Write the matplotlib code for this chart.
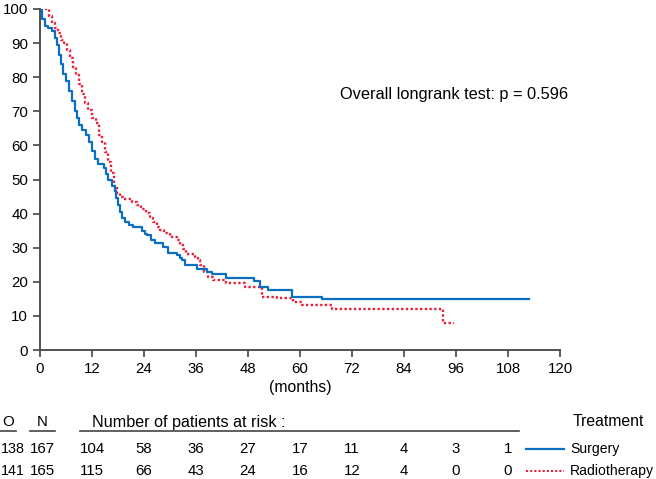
import matplotlib.pyplot as plt
import numpy as np

plt.rcParams['font.family'] = ['Liberation Sans', 'DejaVu Sans']

# Kaplan-Meier curves: (month, survival %)
surgery_km = [(0, 100), (0.5, 97), (1.2, 95), (1.8, 94.5), (2.8, 93.5), (3.5, 91.5), (4.0, 89.5),
              (4.4, 86.5), (4.8, 84), (5.3, 81), (6.0, 79), (6.7, 76), (7.4, 73), (8.1, 70),
              (8.5, 68), (9.0, 66), (9.7, 64.5), (10.6, 63), (11.3, 61), (12.0, 58.5), (12.7, 56),
              (13.4, 54.5), (14.8, 53.5), (15.2, 51.5), (15.7, 50), (16.6, 48.2), (17.2, 46.5),
              (17.6, 44.5), (18.0, 42.4), (18.5, 40.5), (19.0, 38.8), (19.6, 37.4), (20.5, 36.8),
              (21.5, 36), (23.5, 35), (24.2, 34), (24.7, 33.6), (25.5, 32.4), (26.5, 31.3),
              (28.4, 30.2), (29.6, 28.4), (31.6, 27.8), (32.2, 27), (32.7, 26.3), (33.5, 24.9),
              (36.2, 23.7), (38.5, 22.8), (39.7, 22.3), (43.0, 21), (49.3, 20.2), (50.8, 18.4),
              (52.6, 17.5), (58.2, 15.6), (65.1, 14.9), (112.9, 14.9)]

radio_km = [(0, 100), (1.6, 100), (2.1, 98), (2.8, 96), (3.5, 94.5), (4.2, 93), (4.8, 91),
            (5.5, 90), (6.2, 88), (6.9, 85.5), (7.6, 83), (8.3, 80.5), (9.0, 78), (9.7, 75),
            (10.4, 72.5), (11.1, 70.5), (12.0, 68), (12.9, 66.5), (13.6, 63), (14.3, 61),
            (15.0, 58), (15.7, 55), (16.4, 52), (17.1, 48), (17.8, 46), (18.5, 45), (19.2, 44.4),
            (21.2, 43.5), (22.3, 42.4), (23.3, 41.4), (24.5, 40.2), (25.4, 38.8), (26.1, 37.6),
            (27.0, 36), (27.7, 35.2), (28.6, 34.3), (30.0, 33), (31.6, 32.2), (32.3, 30.7),
            (33.0, 29.5), (33.7, 28.1), (35.8, 27.4), (36.5, 26.4), (36.9, 24.9), (37.9, 23),
            (38.8, 21.5), (40.0, 20.4), (43.0, 19.6), (47.3, 18.4), (51.2, 15.6), (54.6, 15.2),
            (58.4, 14), (60.5, 13.2), (67.4, 12), (93.0, 7.9), (95.6, 7.9)]

groups = ["Surgery", "Radiotherapy"]
observed = [138, 141]
n_pat = [167, 165]
at_risk = [[104, 58, 36, 27, 17, 11, 4, 3, 1],
           [115, 66, 43, 24, 16, 12, 4, 0, 0]]
pvalue = "0.596"

blue = "#0a6fc2"
red = "#e8203a"
spine_col = "#444444"

W, H = 656, 479
fig = plt.figure(figsize=(W / 100, H / 100), dpi=100)
ax = fig.add_axes([40 / W, 1 - 350 / H, 520 / W, 341 / H])

rt, rs = zip(*radio_km)
st, ss = zip(*surgery_km)
ax.step(rt, rs, where="post", color=red, lw=1.7, ls=(0, (1, 1)), zorder=2)
ax.step(st, ss, where="post", color=blue, lw=1.6, zorder=3)

ax.set_xlim(0, 120)
ax.set_ylim(0, 100)
ax.set_xticks(np.arange(0, 121, 12))
ax.set_yticks(np.arange(0, 101, 10))
for s in ["top", "right"]:
    ax.spines[s].set_visible(False)
for s in ["left", "bottom"]:
    ax.spines[s].set_color(spine_col)
    ax.spines[s].set_linewidth(1.3)
ax.tick_params(colors=spine_col, labelcolor="black", labelsize=10.8, length=5, width=1.2)
ax.set_xlabel("(months)", fontsize=11.3, labelpad=3)

fig.text(454 / W, 1 - 95 / H, "Overall longrank test: p = " + pvalue,
         ha="center", va="center", fontsize=11.8)

# risk table below the plot
def fx(px):
    return px / W

def fy(py):
    return 1 - py / H

fs = 10.8
fig.text(fx(8), fy(422), "O", ha="center", va="center", fontsize=fs)
fig.text(fx(42), fy(422), "N", ha="center", va="center", fontsize=fs)
fig.text(fx(92), fy(422), "Number of patients at risk :", ha="left", va="center", fontsize=11.6)
fig.text(fx(608), fy(422), "Treatment", ha="center", va="center", fontsize=11.3)
for x0, x1 in [(0, 16), (30, 55), (80, 519)]:
    fig.add_artist(plt.Line2D([fx(x0), fx(x1)], [fy(431), fy(431)], color=spine_col, lw=1.2))

row_y = [449, 471]
cols = [92 + 52 * i for i in range(len(at_risk[0]))]
styles = [dict(color=blue, lw=1.6), dict(color=red, lw=1.5, ls=(0, (1, 1)))]
for r in range(2):
    y = fy(row_y[r])
    fig.text(fx(1), y, str(observed[r]), ha="left", va="center", fontsize=10.3)
    fig.text(fx(42), y, str(n_pat[r]), ha="center", va="center", fontsize=fs)
    for c, v in zip(cols, at_risk[r]):
        fig.text(fx(c), y, str(v), ha="center", va="center", fontsize=fs)
    fig.add_artist(plt.Line2D([fx(526), fx(564)], [y, y], **styles[r]))
    fig.text(fx(570), y, groups[r], ha="left", va="center", fontsize=10.1)

fig.savefig("out.png", dpi=100)
